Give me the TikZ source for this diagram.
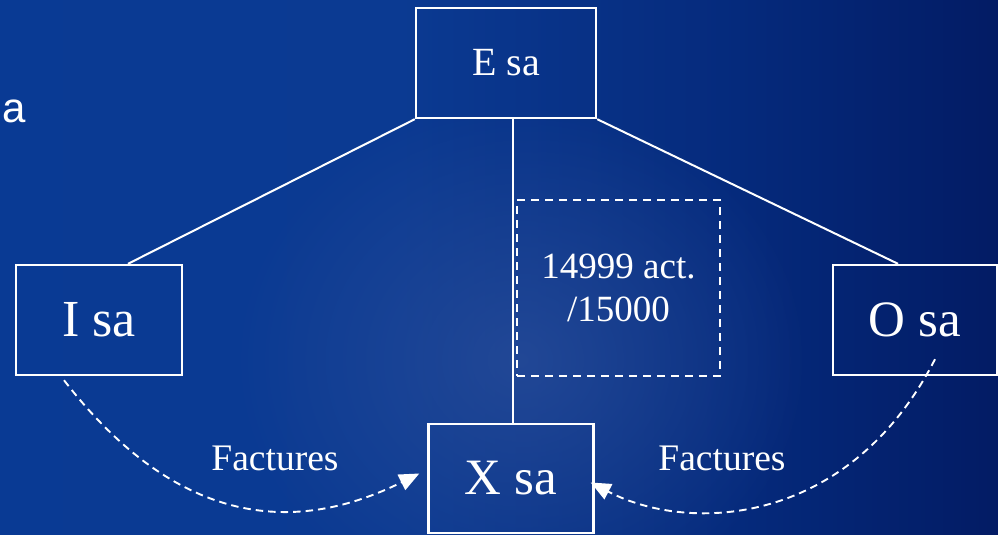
\documentclass[tikz,border=0pt]{standalone}
\usepackage{fontspec}
\setmainfont{Liberation Serif}
\newfontfamily\slidesans{Liberation Sans}
\usetikzlibrary{arrows.meta,fadings}

\definecolor{bgA}{HTML}{073A96}
\definecolor{bgB}{HTML}{0B3A92}
\definecolor{bgC}{HTML}{052A7C}
\definecolor{bgD}{HTML}{02185F}
\definecolor{bgE}{HTML}{000B48}
\definecolor{glow}{HTML}{2A4E9A}

\pgfdeclarehorizontalshading{slidebg}{100bp}{
  color(0bp)=(bgA); color(45bp)=(bgB); color(62bp)=(bgC);
  color(78bp)=(bgD); color(100bp)=(bgE)}
\tikzfading[name=softglow, inner color=transparent!0, outer color=transparent!100]

\tikzset{
  box/.style={draw=white, line width=2.4pt, text=white, inner sep=0pt},
  link/.style={draw=white, line width=2pt},
  flow/.style={draw=white, line width=1.9pt, dash pattern=on 7.5pt off 5pt,
    -{Triangle[length=20pt,width=17pt]}},
  labeltxt/.style={text=white, font=\fontsize{37.5}{43}\selectfont},
}

\begin{document}
\begin{tikzpicture}[x=1pt, y=-1pt]
  \useasboundingbox (0,0) rectangle (998,535);

  % slide background
  \shade[shading=slidebg] (0,0) rectangle (998,535);
  \fill[glow, path fading=softglow, opacity=0.75] (520,360) ellipse (290 and 260);

  % partial slide text at the left edge
  \node[anchor=base west, inner sep=0pt, text=white,
        font=\slidesans\fontsize{42}{50}\selectfont] (frag) at (2,122) {a};

  % boxes
  \node[box, minimum width=180pt, minimum height=110pt,
        font=\fontsize{40}{48}\selectfont] (E) at (506,63) {E sa};
  \node[box, minimum width=166pt, minimum height=110pt,
        font=\fontsize{52}{62}\selectfont] (I) at (99,320) {I sa};
  \node[box, minimum width=164pt, minimum height=110pt,
        font=\fontsize{51}{61}\selectfont] (O) at (915,320) {O sa};
  \node[box, minimum width=165pt, minimum height=109pt,
        font=\fontsize{51}{61}\selectfont] (X) at (511,478.5) {X sa};

  % dashed note box
  \node[draw=white, line width=1.8pt, dash pattern=on 8pt off 6pt,
        minimum width=203pt, minimum height=176pt, inner sep=0pt,
        align=center, labeltxt, font=\fontsize{37}{43}\selectfont]
        (N) at (618.5,288) {14999 act.\\/15000};

  % hierarchy links
  \draw[link] (E.south west) -- ([xshift=29pt]I.north);
  \draw[link] (E.south east) -- ([xshift=-17pt]O.north);
  \draw[link] ([xshift=7pt]E.south) -- ([xshift=7pt]E.south |- X.north);

  % invoice flows
  \draw[flow] ([shift={(-35pt,-4pt)}]I.south)
     .. controls +(116,150) and +(-121,60) .. ([shift={(-8pt,5pt)}]X.west);
  \draw[flow] ([shift={(20pt,17pt)}]O.south)
     .. controls +(-85,166) and +(100,52) .. ([shift={(-4pt,-4pt)}]X.east);

  % flow labels
  \node[labeltxt, anchor=base] (F1) at (275,470) {Factures};
  \node[labeltxt, anchor=base] (F2) at (722,470) {Factures};
\end{tikzpicture}
\end{document}
